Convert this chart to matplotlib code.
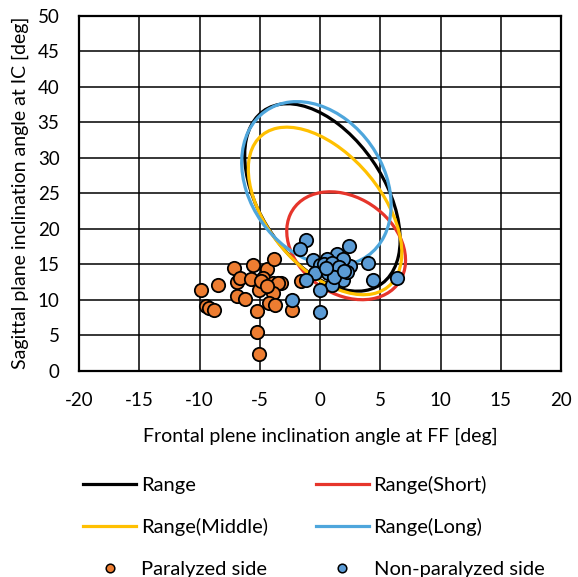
import numpy as np
import matplotlib
matplotlib.use("Agg")
import matplotlib.pyplot as plt
from matplotlib.patches import Ellipse
from matplotlib.lines import Line2D

plt.rcParams['font.family'] = ['Lato', 'DejaVu Sans']
plt.rcParams['axes.unicode_minus'] = False

# Ellipse ranges: centre, half-extent along each axis, correlation
ell_names = ['Range', 'Range(Short)', 'Range(Middle)', 'Range(Long)']
ell_colors = ['#000000', '#E6352B', '#FFC000', '#4EA6DC']
ell_cx = [0.2, 2.17, 0.42, -0.3]
ell_cy = [24.4, 17.6, 22.5, 26.35]
ell_wx = [6.45, 4.93, 6.37, 6.2]
ell_wy = [13.2, 7.6, 11.8, 11.55]
ell_r = [-0.45, -0.27, -0.50, -0.26]

# Individual measurements
paralyzed_x = [-9.9, -8.5, -9.5, -9.2, -8.8, -7.1, -6.9, -6.6, -6.9, -6.2,
               -5.6, -5.7, -5.1, -5.2, -5.2, -5.1, -4.4, -3.8, -4.7, -3.9,
               -3.2, -3.5, -3.9, -4.2, -3.7, -2.3, -4.9, -4.4, -1.6]
paralyzed_y = [11.4, 12.0, 9.1, 8.9, 8.5, 14.4, 12.5, 13.0, 10.5, 10.1,
               14.9, 12.9, 11.4, 8.4, 5.5, 2.3, 14.3, 15.7, 13.0, 12.4,
               12.3, 12.4, 10.9, 9.5, 9.2, 8.6, 12.6, 11.9, 12.6]

nonparalyzed_x = [-1.2, -1.7, 2.4, 1.4, 0.55, -0.6, 0.0, 4.0, 2.5, 1.9,
                  -0.4, 0.7, 1.4, -1.2, 1.9, 4.4, 6.4, 1.0, 0.0, -2.3,
                  0.0, 0.3, 1.0, 1.6, 2.2, 1.2, 0.5, 2.0]
nonparalyzed_y = [18.4, 17.2, 17.5, 16.5, 15.8, 15.6, 14.9, 15.1, 14.7, 15.8,
                  13.7, 13.7, 14.2, 12.8, 12.8, 12.8, 13.1, 12.1, 11.4, 10.0,
                  8.3, 15.0, 15.2, 14.6, 13.9, 13.2, 14.5, 14.0]

x_ticks = [-20, -15, -10, -5, 0, 5, 10, 15, 20]
y_ticks = [0, 5, 10, 15, 20, 25, 30, 35, 40, 45, 50]

fig = plt.figure(figsize=(5.78, 5.77), dpi=100)
ax = fig.add_axes([79 / 578, 1 - 370.7 / 577, 482 / 578, 355 / 577])

ax.set_xlim(x_ticks[0], x_ticks[-1])
ax.set_ylim(y_ticks[0], y_ticks[-1])
ax.set_xticks(x_ticks)
ax.set_yticks(y_ticks)
ax.grid(True, color='black', linewidth=1.1)
ax.set_axisbelow(True)
for s in ax.spines.values():
    s.set_linewidth(1.6)
ax.tick_params(axis='both', length=0, labelsize=13.5)
ax.tick_params(axis='x', pad=15)
ax.tick_params(axis='y', pad=14)

handles = {}
for name, col, cx, cy, wx, wy, r in zip(ell_names, ell_colors, ell_cx, ell_cy,
                                        ell_wx, ell_wy, ell_r):
    cov = np.array([[wx ** 2, r * wx * wy], [r * wx * wy, wy ** 2]])
    vals, vecs = np.linalg.eigh(cov)
    ang = np.degrees(np.arctan2(vecs[1, 1], vecs[0, 1]))
    e = Ellipse((cx, cy), width=2 * np.sqrt(vals[1]), height=2 * np.sqrt(vals[0]),
                angle=ang, fill=False, edgecolor=col, linewidth=2.3, zorder=3)
    ax.add_patch(e)
    handles[name] = Line2D([], [], color=col, linewidth=2.3)

ax.scatter(paralyzed_x, paralyzed_y, s=92, color='#ED7D31', edgecolor='black',
           linewidth=1.3, zorder=4)
ax.scatter(nonparalyzed_x, nonparalyzed_y, s=92, color='#5B9BD5', edgecolor='black',
           linewidth=1.3, zorder=5)
handles['Paralyzed side'] = Line2D([], [], linestyle='none', marker='o', markersize=6.2,
                                   markerfacecolor='#ED7D31', markeredgecolor='black',
                                   markeredgewidth=1.1)
handles['Non-paralyzed side'] = Line2D([], [], linestyle='none', marker='o', markersize=6.2,
                                       markerfacecolor='#5B9BD5', markeredgecolor='black',
                                       markeredgewidth=1.1)

ax.set_xlabel('Frontal plene inclination angle at FF [deg]', fontsize=14, labelpad=14)
ax.set_ylabel('Sagittal plane inclination angle at IC [deg]', fontsize=14, labelpad=6)

order = ['Range', 'Range(Middle)', 'Paralyzed side',
         'Range(Short)', 'Range(Long)', 'Non-paralyzed side']
fig.legend([handles[k] for k in order], order, ncol=2, loc='center',
           bbox_to_anchor=(0.543, 0.087), frameon=False, fontsize=14.5,
           handlelength=2.6, handletextpad=0.25, columnspacing=2.4,
           labelspacing=1.2)

fig.savefig('out.png', dpi=100)
